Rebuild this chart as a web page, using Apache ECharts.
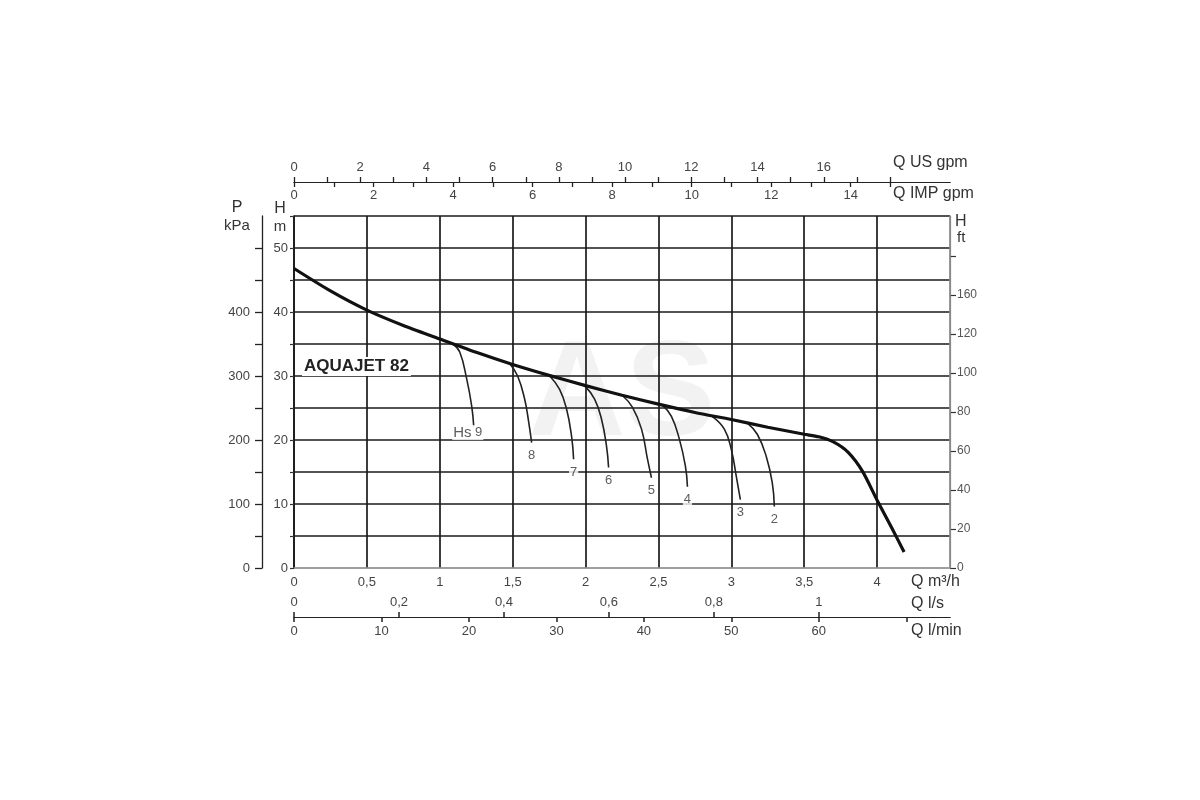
<!DOCTYPE html>
<html>
<head>
<meta charset="utf-8">
<script src="https://cdn.jsdelivr.net/npm/echarts@6/dist/echarts.min.js"></script>
<style>html,body{margin:0;padding:0;background:#fff}#c{width:1200px;height:800px}</style>
</head>
<body>
<div id="c"></div>
<script>
// ---- Data (Q in m³/h, H in m) ----
const mainQ = [0, 0.25, 0.5, 0.75, 1, 1.25, 1.5, 1.75, 2, 2.25, 2.5, 2.75, 3, 3.25, 3.5, 3.6, 3.7, 3.8, 3.9, 4.0, 4.1, 4.185];
const mainH = [46.8, 43.3, 40.3, 37.9, 35.8, 33.7, 31.8, 30.1, 28.5, 27.0, 25.6, 24.3, 23.2, 22.0, 20.9, 20.5, 19.7, 18.1, 15.1, 10.6, 6.3, 2.5];

const branchNames = ['9', '8', '7', '6', '5', '4', '3', '2'];
const branch9 = [[1.09, 35.0], [1.137, 33.75], [1.185, 29.5], [1.219, 25.3], [1.233, 22.1]];
const branch8 = [[1.479, 31.95], [1.534, 30.0], [1.582, 26.4], [1.610, 22.8], [1.630, 19.6]];
const branch7 = [[1.753, 30.05], [1.822, 27.9], [1.870, 24.8], [1.904, 20.6], [1.918, 17.0]];
const branch6 = [[1.993, 28.5], [2.062, 26.4], [2.110, 23.2], [2.144, 19.0], [2.158, 15.7]];
const branch5 = [[2.253, 26.95], [2.322, 25.1], [2.384, 21.7], [2.425, 17.0], [2.452, 14.1]];
const branch4 = [[2.527, 25.45], [2.589, 23.7], [2.644, 20.1], [2.685, 15.9], [2.699, 12.7]];
const branch3 = [[2.870, 23.65], [2.952, 21.7], [3.000, 18.5], [3.034, 14.3], [3.062, 10.7]];
const branch2 = [[3.110, 22.65], [3.178, 20.9], [3.240, 17.4], [3.281, 13.3], [3.295, 9.6]];
const branches = [branch9, branch8, branch7, branch6, branch5, branch4, branch3, branch2];

// ---- Tick values / labels ----
const m3hMax = 4.5;
const hMax = 55;
const usGpmTicks = [0,1,2,3,4,5,6,7,8,9,10,11,12,13,14,15,16,17,18];
const usGpmLabels = [0,2,4,6,8,10,12,14,16];
const impGpmTicks = [0,1,2,3,4,5,6,7,8,9,10,11,12,13,14,15];
const impGpmLabels = [0,2,4,6,8,10,12,14];
const lsTicks = [0, 0.2, 0.4, 0.6, 0.8, 1.0];
const lsLabels = [0, 0.2, 0.4, 0.6, 0.8, 1.0];
const lminTicks = [0,10,20,30,40,50,60,70];
const lminLabels = [0,10,20,30,40,50,60];
const pTicks = [0,50,100,150,200,250,300,350,400,450,500];
const pLabels = [0,100,200,300,400];
const ftTicks = [0,20,40,60,80,100,120,140,160];
const ftLabelValues = [0,20,40,60,80,100,120,140];
const ftLabelTexts = ['0','20','40','60','80','100','120','160'];

// conversion factors from m³/h and m
const US_GPM_PER_M3H = 4.4029;
const IMP_GPM_PER_M3H = 3.6662;
const LS_PER_M3H = 1 / 3.6;
const LMIN_PER_M3H = 1000 / 60;
const KPA_PER_M = 10;
const FT_PER_M = 3.28084;

const FONT = 'Liberation Sans, Arial, sans-serif';
const comma = v => String(v).replace('.', ',');
const lblBase = { color: '#444', fontSize: 13, fontFamily: FONT };
const dark = '#1a1a1a';

const chart = echarts.init(document.getElementById('c'), null, { renderer: 'canvas' });

const xSplitColors = [];
for (let i = 0; i < 9; i++) xSplitColors.push(dark);
xSplitColors.push('#888');
const ySplitColors = ['#999'];
for (let i = 0; i < 11; i++) ySplitColors.push(dark);

const series = [];
series.push({
  type: 'line', name: 'main', xAxisIndex: 0, yAxisIndex: 0,
  data: mainQ.map((q, i) => [q, mainH[i]]),
  showSymbol: false, smooth: 0.25, z: 6,
  lineStyle: { color: '#111', width: 3.2 }
});
branches.forEach((b, i) => {
  series.push({
    type: 'line', name: 'Hs ' + branchNames[i], xAxisIndex: 0, yAxisIndex: 0,
    data: b, showSymbol: false, smooth: 0.45, z: 5,
    lineStyle: { color: '#222', width: 1.6 }
  });
});
series.push({
  type: 'scatter', xAxisIndex: 0, yAxisIndex: 0, symbolSize: 0, z: 7, silent: true,
  data: branches.map((b, i) => {
    const item = { value: b[b.length - 1], name: branchNames[i] };
    if (i === 0) {
      item.label = { formatter: '{hs|Hs} {n|9}', offset: [-6, 6] };
    }
    return item;
  }),
  label: {
    show: true, position: 'inside', offset: [0, 13], formatter: '{b}',
    color: '#333', fontSize: 13, fontFamily: FONT,
    backgroundColor: '#fff', padding: [0, 1],
    rich: {
      hs: { fontSize: 15, color: '#333', fontFamily: FONT },
      n: { fontSize: 13, color: '#333', fontFamily: FONT }
    }
  }
});

const option = {
  backgroundColor: '#fff',
  animation: false,
  grid: { left: 294, right: 250, top: 216, bottom: 232, containLabel: false },
  xAxis: [
    { // Q m3/h
      type: 'value', position: 'bottom', min: 0, max: m3hMax, interval: 0.5,
      axisLine: { show: true, onZero: false, lineStyle: { color: '#999', width: 1.5 } },
      axisTick: { show: false },
      axisLabel: Object.assign({}, lblBase, { margin: 8, formatter: v => v >= m3hMax ? '' : comma(v) }),
      splitLine: { show: true, lineStyle: { color: xSplitColors, width: 1.7 } },
      z: 1
    },
    { // Q l/s
      type: 'value', position: 'bottom', offset: 49, min: 0, max: m3hMax * LS_PER_M3H,
      axisLine: { show: true, onZero: false, lineStyle: { color: '#222', width: 1.2 } },
      axisTick: { show: true, inside: true, length: 5, customValues: lsTicks, lineStyle: { color: '#222', width: 1.5 } },
      axisLabel: Object.assign({}, lblBase, { inside: true, margin: 8, customValues: lsLabels, formatter: v => comma(v) }),
      splitLine: { show: false }
    },
    { // Q l/min
      type: 'value', position: 'bottom', offset: 49, min: 0, max: m3hMax * LMIN_PER_M3H,
      axisLine: { show: true, onZero: false, lineStyle: { color: '#222', width: 1.2 } },
      axisTick: { show: true, length: 5, customValues: lminTicks, lineStyle: { color: '#222', width: 1.5 } },
      axisLabel: Object.assign({}, lblBase, { margin: 8, customValues: lminLabels }),
      splitLine: { show: false }
    },
    { // Q US gpm
      type: 'value', position: 'top', offset: 34, min: 0, max: m3hMax * US_GPM_PER_M3H,
      axisLine: { show: true, onZero: false, lineStyle: { color: '#222', width: 1.2 } },
      axisTick: { show: true, length: 5, customValues: usGpmTicks, lineStyle: { color: '#222', width: 1.3 } },
      axisLabel: Object.assign({}, lblBase, { margin: 8, customValues: usGpmLabels }),
      splitLine: { show: false }
    },
    { // Q IMP gpm
      type: 'value', position: 'top', offset: 34, min: 0, max: m3hMax * IMP_GPM_PER_M3H,
      axisLine: { show: true, onZero: false, lineStyle: { color: '#222', width: 1.2 } },
      axisTick: { show: true, inside: true, length: 5, customValues: impGpmTicks, lineStyle: { color: '#222', width: 1.3 } },
      axisLabel: Object.assign({}, lblBase, { inside: true, margin: 7, customValues: impGpmLabels }),
      splitLine: { show: false }
    }
  ],
  yAxis: [
    { // H m
      type: 'value', position: 'left', min: 0, max: hMax, interval: 5,
      axisLine: { show: true, onZero: false, lineStyle: { color: dark, width: 1.7 } },
      axisTick: { show: true, length: 4, lineStyle: { color: '#333', width: 1.2 } },
      axisLabel: Object.assign({}, lblBase, { margin: 6, formatter: v => (v % 10 === 0 && v < hMax) ? String(v) : '' }),
      splitLine: { show: true, lineStyle: { color: ySplitColors, width: 1.7 } },
      z: 1
    },
    { // P kPa
      type: 'value', position: 'left', offset: 32, min: 0, max: hMax * KPA_PER_M,
      axisLine: { show: true, onZero: false, lineStyle: { color: '#222', width: 1.3 } },
      axisTick: { show: true, length: 7, customValues: pTicks, lineStyle: { color: '#222', width: 1.3 } },
      axisLabel: Object.assign({}, lblBase, { margin: 12, customValues: pLabels }),
      splitLine: { show: false }
    },
    { // H ft
      type: 'value', position: 'right', min: 0, max: hMax * FT_PER_M,
      axisLine: { show: true, onZero: false, lineStyle: { color: '#888', width: 1.2 } },
      axisTick: { show: true, length: 6, customValues: ftTicks, lineStyle: { color: '#333', width: 1.2 } },
      axisLabel: Object.assign({}, lblBase, { fontSize: 12, color: '#555', margin: 7, customValues: ftLabelValues,
        formatter: v => { const k = ftLabelValues.indexOf(v); return k >= 0 ? ftLabelTexts[k] : ''; } }),
      splitLine: { show: false }
    }
  ],
  graphic: [
    { type: 'text', z: -1, left: 528, top: 330, style: { text: 'AS', font: 'bold 135px ' + FONT, fill: 'rgba(0,0,0,0.05)' } },
    { type: 'text', z: 10, left: 302, top: 357, style: { text: 'AQUAJET 82', font: 'bold 17px ' + FONT, fill: '#222', backgroundColor: '#fff', padding: [1, 2] } },
    { type: 'text', style: { x: 237, y: 208, text: 'P', font: '16px ' + FONT, fill: '#333', align: 'center', verticalAlign: 'middle' } },
    { type: 'text', style: { x: 237, y: 226, text: 'kPa', font: '15px ' + FONT, fill: '#333', align: 'center', verticalAlign: 'middle' } },
    { type: 'text', style: { x: 280, y: 209, text: 'H', font: '16px ' + FONT, fill: '#333', align: 'center', verticalAlign: 'middle' } },
    { type: 'text', style: { x: 280, y: 227, text: 'm', font: '15px ' + FONT, fill: '#333', align: 'center', verticalAlign: 'middle' } },
    { type: 'text', style: { x: 955, y: 222, text: 'H', font: '16px ' + FONT, fill: '#333', align: 'left', verticalAlign: 'middle' } },
    { type: 'text', style: { x: 957, y: 238, text: 'ft', font: '15px ' + FONT, fill: '#333', align: 'left', verticalAlign: 'middle' } },
    { type: 'text', style: { x: 893, y: 163, text: 'Q US gpm', font: '16px ' + FONT, fill: '#333', align: 'left', verticalAlign: 'middle' } },
    { type: 'text', style: { x: 893, y: 194, text: 'Q IMP gpm', font: '16px ' + FONT, fill: '#333', align: 'left', verticalAlign: 'middle' } },
    { type: 'text', style: { x: 911, y: 582, text: 'Q m³/h', font: '16px ' + FONT, fill: '#333', align: 'left', verticalAlign: 'middle' } },
    { type: 'text', style: { x: 911, y: 604, text: 'Q l/s', font: '16px ' + FONT, fill: '#333', align: 'left', verticalAlign: 'middle' } },
    { type: 'text', style: { x: 911, y: 631, text: 'Q l/min', font: '16px ' + FONT, fill: '#333', align: 'left', verticalAlign: 'middle' } }
  ],
  series: series
};
chart.setOption(option);
</script>
</body>
</html>
